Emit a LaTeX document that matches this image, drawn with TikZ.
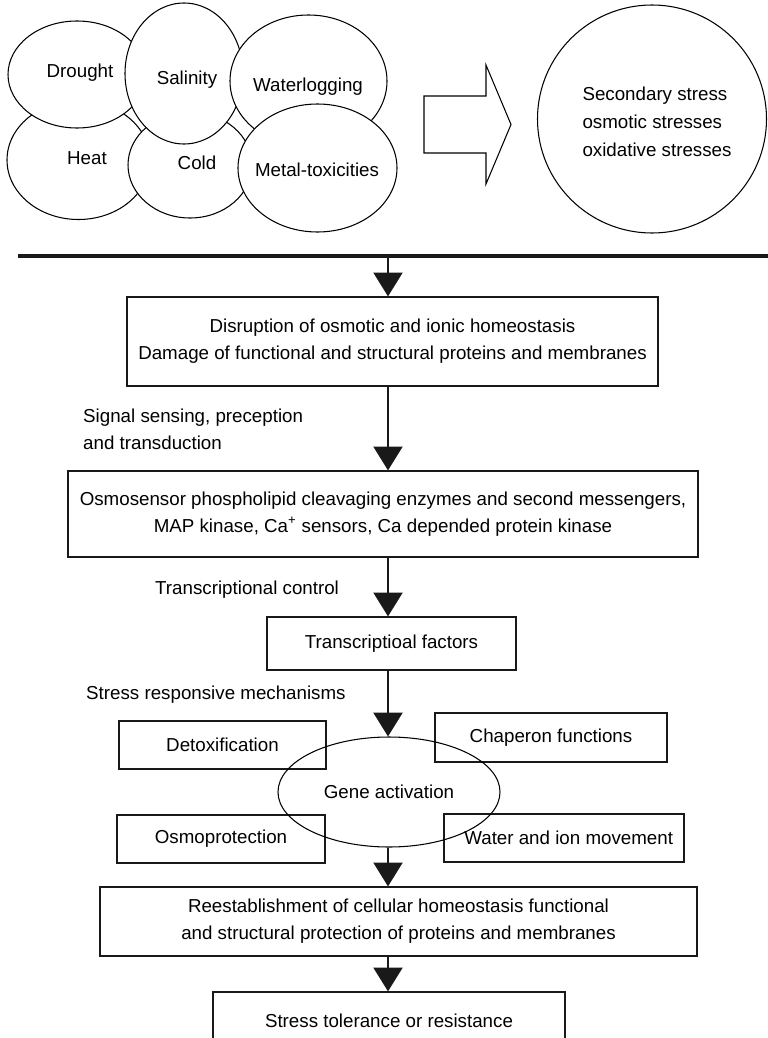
\documentclass[tikz,border=0pt]{standalone}
\usepackage{fontspec}
\setmainfont{Liberation Sans}
\usetikzlibrary{arrows.meta,shapes.geometric,positioning}

\begin{document}
\begin{tikzpicture}
		[x=0.03cm,y=-0.03cm,
		font=\fontsize{16}{23}\selectfont,
		stress/.style={ellipse,draw=black,fill=white,line width=0.9pt,
			inner sep=0pt},
		block/.style={rectangle,draw=black!90,line width=1pt,
			inner sep=0pt,align=center},
		note/.style={anchor=west,inner sep=0pt,align=left},
		flow/.style={draw=black!90,line width=2.2pt,
			-{Triangle[length=20.4pt,width=24.7pt]}}]
		\useasboundingbox (0,0) rectangle (768,1038);
		%---------------------primary stresses ------------
		\node (heat) at (78.5,160) [stress,minimum width=4.29cm,minimum height=3.57cm] {};
		\node (cold) at (190,165) [stress,minimum width=3.72cm,minimum height=3.18cm] {};
		\node (drought) at (77,74.5) [stress,minimum width=4.14cm,minimum height=3.21cm] {};
		\node (salinity) at (184,73.5) [stress,minimum width=3.54cm,minimum height=4.23cm] {};
		\node (water) at (308.5,81) [stress,minimum width=4.71cm,minimum height=3.96cm] {};
		\node (metal) at (317.5,168) [stress,minimum width=4.77cm,minimum height=3.84cm] {};
		\node at (80,73) {Drought};
		\node at (87,158) {Heat};
		\node at (187,80) {Salinity};
		\node at (197,163) {Cold};
		\node at (308,87) {Waterlogging};
		\node at (317,170) {Metal-toxicities};
		%---------------------block arrow and secondary stress ------------
		\draw[line width=0.9pt] (424,96) -- (486,96) -- (486,65) -- (511,124.5)
		-- (486,184) -- (486,153) -- (424,153) -- cycle;
		\node (second) at (652,119) [stress,minimum width=6.87cm,minimum height=6.84cm] {};
		\node at (657,122) [align=left,font=\fontsize{16}{24}\selectfont]
		{Secondary stress\\osmotic stresses\\oxidative stresses};
		%---------------------separator ------------
		\coordinate (lineL) at (18,256);
		\coordinate (lineR) at (768,256);
		\coordinate (hub) at (388,256);
		\draw[black!90,line width=2.6pt] (lineL) -- (lineR);
		%---------------------flow of responses ------------
		\node (disrupt) at (392.5,341.5) [block,minimum width=15.93cm,minimum height=2.67cm]
		{Disruption of osmotic and ionic homeostasis\\
			Damage of functional and structural proteins and membranes};
		\node (sensor) at (383,514) [block,minimum width=18.9cm,minimum height=2.58cm]
		{Osmosensor phospholipid cleavaging enzymes and second messengers,\\
			MAP kinase, Ca\textsuperscript{+} sensors, Ca depended protein kinase};
		\node (factor) at (391.5,643.5) [block,minimum width=7.47cm,minimum height=1.59cm]
		{Transcriptioal factors};
		\node (detox) at (222.5,745) [block,minimum width=6.21cm,minimum height=1.44cm]
		{Detoxification};
		\node (chaperon) at (551,737.5) [block,minimum width=6.96cm,minimum height=1.47cm]
		{Chaperon functions};
		\node (osmo) at (221,839) [block,minimum width=6.24cm,minimum height=1.44cm]
		{Osmoprotection};
		\node (ion) at (564,838) [block,minimum width=7.2cm,minimum height=1.44cm]
		{\hspace*{8pt}Water and ion movement};
		\node (gene) at (389,792) [stress,fill=none,minimum width=6.66cm,minimum height=3.3cm]
		{Gene activation};
		\node (reest) at (398.5,921.5) [block,minimum width=17.91cm,minimum height=2.07cm]
		{Reestablishment of cellular homeostasis functional\\
			and structural protection of proteins and membranes};
		\node (toler) at (389,1021) [block,minimum width=10.56cm,minimum height=1.74cm]
		{Stress tolerance or resistance};
		%---------------------labels ------------
		\node (signal) at (83,429.5) [note] {Signal sensing, preception\\and transduction};
		\node (control) at (155,590) [note] {Transcriptional control};
		\node (mech) at (86,695) [note] {Stress responsive mechanisms};
		%---------------------arrows ------------
		\draw[flow] (hub) -- (hub |- disrupt.north);
		\draw[flow] (hub |- disrupt.south) -- (hub |- sensor.north);
		\draw[flow] (hub |- sensor.south) -- (hub |- factor.north);
		\draw[flow] (hub |- factor.south) -- (hub |- gene.north);
		\draw[flow] (hub |- gene.south) -- (hub |- reest.north);
		\draw[flow] (hub |- reest.south) -- (hub |- toler.north);
\end{tikzpicture}
\end{document}
